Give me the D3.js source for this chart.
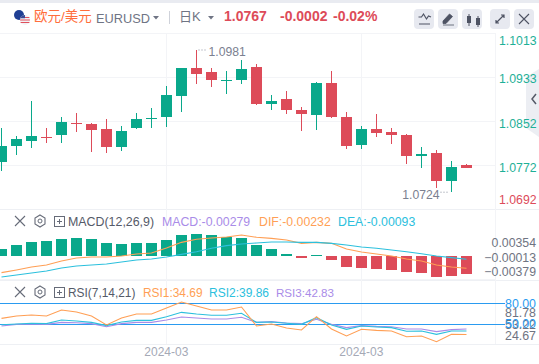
<!DOCTYPE html>
<html>
<head>
<meta charset="utf-8">
<script src="https://cdn.jsdelivr.net/npm/d3@7"></script>
<style>
  html, body { margin: 0; padding: 0; background: #fff; overflow: hidden; }
  text { font-family: "Liberation Sans", "Noto Sans CJK SC", sans-serif; }
</style>
</head>
<body>
<div id="chart"></div>
<script>
// Candles
var open = [1.07777, 1.08066, 1.08157, 1.08229, 1.08265, 1.08482, 1.08464, 1.08374, 1.08048, 1.08392, 1.08554, 1.08590, 1.08970, 1.09476, 1.09404, 1.09241, 1.09259, 1.09494, 1.08825, 1.08916, 1.08717, 1.08627, 1.09205, 1.08590, 1.08084, 1.08374, 1.08319, 1.08265, 1.07886, 1.07940, 1.07434, 1.07718];
var high = [1.08392, 1.08247, 1.08880, 1.08392, 1.08590, 1.08663, 1.08482, 1.08554, 1.08428, 1.08663, 1.08753, 1.09151, 1.09476, 1.0981, 1.09476, 1.09422, 1.09621, 1.09548, 1.08988, 1.09060, 1.08771, 1.09223, 1.09422, 1.08681, 1.08428, 1.08645, 1.08392, 1.08283, 1.08048, 1.07994, 1.07795, 1.07741];
var low = [1.07615, 1.07904, 1.08036, 1.08121, 1.08121, 1.08319, 1.07958, 1.07940, 1.07976, 1.08374, 1.08392, 1.08410, 1.08681, 1.09187, 1.09133, 1.09006, 1.09187, 1.08807, 1.08717, 1.08645, 1.08337, 1.08356, 1.08572, 1.08012, 1.08012, 1.08229, 1.08102, 1.07741, 1.07669, 1.07307, 1.0724, 1.07669];
var close = [1.08066, 1.08193, 1.08247, 1.08211, 1.08500, 1.08464, 1.08356, 1.08048, 1.08337, 1.08554, 1.08572, 1.08988, 1.09476, 1.09368, 1.09259, 1.09259, 1.09458, 1.08825, 1.08880, 1.08717, 1.08645, 1.09205, 1.08590, 1.08066, 1.08374, 1.08301, 1.08265, 1.07886, 1.07922, 1.07434, 1.07687, 1.0767];

// MACD panel
var macdHist = [0.00108, 0.00170, 0.00216, 0.00232, 0.00263, 0.00278, 0.00263, 0.00201, 0.00185, 0.00201, 0.00201, 0.00247, 0.00324, 0.00340, 0.00324, 0.00293, 0.00278, 0.00170, 0.00108, 0.00031, -0.00031, 0.00008, -0.00062, -0.00170, -0.00185, -0.00201, -0.00216, -0.00247, -0.00263, -0.00324, -0.00309, -0.00279];
var dif = [-0.00299, -0.00258, -0.00212, -0.00181, -0.00119, -0.00073, -0.00057, -0.00057, -0.00042, -0.00011, 0.00005, 0.00082, 0.00169, 0.00216, 0.00236, 0.00252, 0.00283, 0.00247, 0.00231, 0.00205, 0.00154, 0.00169, 0.00154, 0.00066, 0.00020, -0.00011, -0.00042, -0.00088, -0.00119, -0.00181, -0.00212, -0.00232];
var dea = [-0.00366, -0.00335, -0.00304, -0.00273, -0.00227, -0.00196, -0.00181, -0.00165, -0.00134, -0.00103, -0.00088, -0.00057, -0.00016, 0.00025, 0.00077, 0.00118, 0.00144, 0.00159, 0.00175, 0.00175, 0.00169, 0.00169, 0.00154, 0.00128, 0.00097, 0.00077, 0.00051, 0.00025, -0.00006, -0.00042, -0.00067, -0.00093];

// RSI panel
var rsi1 = [58.2, 61.6, 63, 61.6, 70.3, 67.4, 61.6, 48.6, 58.7, 64.5, 64.5, 73.2, 81.9, 76.1, 70.3, 70.3, 74.6, 47.1, 50, 44.2, 41.3, 60.6, 42.8, 32.6, 42.3, 40.8, 39.9, 31.6, 32.6, 24.4, 35, 34.69];
var rsi2 = [49, 50, 51, 50.5, 55.8, 54.3, 52.4, 47.6, 52.9, 55.3, 55.3, 60.6, 66.9, 64.5, 62.6, 62.6, 65.5, 52.4, 52.9, 51, 49.5, 59.2, 48.6, 42.3, 47.1, 45.7, 44.7, 39.4, 39.9, 35, 39.9, 39.86];
var rsi3 = [47.1, 49.5, 50, 49.5, 52.4, 51.9, 50.5, 46.1, 50.5, 52.4, 52.4, 55.8, 60.1, 58.7, 57.2, 57.2, 59.7, 52.4, 53.4, 51.4, 50.5, 56.8, 49.5, 44.7, 47.6, 46.6, 46.1, 42.8, 42.8, 38.9, 41.8, 42.83];

// Axis ticks
var priceTicks = [1.1013, 1.0933, 1.0852, 1.0772, 1.0692];
var macdTicks = [0.00354, -0.00013, -0.00379];
var rsiTicks = [81.78, 53.22, 24.67];
var rsiGuides = [80, 50];
var dateTicks = [11, 24];
var dateLabels = ["2024-03", "2024-03"];

var W = 539, H = 364;
var GREEN = "#09a88b", RED = "#dd4b59", GRID = "#f3f4f7";
var ORANGE = "#ff9f55", BLUE = "#2cc0dd", PURPLE = "#a98ce8";

var svg = d3.select("#chart").append("svg").attr("width", W).attr("height", H)
  .style("display", "block");

var idx = d3.range(close.length);

// Scales
var x = d3.scaleBand().domain(idx).range([-6.2, -6.2 + 15 * idx.length]).paddingInner(4 / 15).paddingOuter(2 / 15);
function cx(i) { return Math.round(x(i) + x.bandwidth() / 2 - 0.5) + 0.5; }

var yPrice = d3.scaleLinear().domain([1.0692, 1.1013]).range([209.4, 31.8]);
var yHist = d3.scaleLinear().domain([-0.00379, 0.00354]).range([256 + 0.00379 * 6475, 256 - 0.00354 * 6475]);
var yMacdLine = d3.scaleLinear().domain([-0.00379, 0.00354]).range([253.3 + 0.00379 * 6475, 253.3 - 0.00354 * 6475]);
var yMacdAxis = d3.scaleLinear().domain([-0.00379, 0.00354]).range([271.7, 243]);
var yRsi = d3.scaleLinear().domain([50, 80]).range([324, 303.3]);
var yRsiAxis = d3.scaleLinear().domain([24.67, 81.78]).range([335.7, 313]);

// Top strip
svg.append("rect").attr("width", W).attr("height", 3).attr("fill", "#e9ebf1");

// Collapse handle
svg.append("path").attr("d", "M539 69L526 77V128L539 137z").attr("fill", "#eceef3");
svg.append("path").attr("d", "M536 94l-4 5 4 5").attr("fill", "none").attr("stroke", "#555a68").attr("stroke-width", 1.5);

// Grid
var grid = svg.append("g").attr("stroke", GRID).attr("fill", "none").attr("shape-rendering", "crispEdges");
[33.5, 77.5, 121.5, 165.5].forEach(function (y) {
  grid.append("line").attr("x1", 0).attr("x2", 495).attr("y1", y).attr("y2", y);
});
[209.5, 280.5, 344.5].forEach(function (y) {
  grid.append("line").attr("x1", 0).attr("x2", W).attr("y1", y).attr("y2", y).attr("stroke", "#eef0f4");
});
grid.append("line").attr("x1", 0).attr("x2", 495).attr("y1", 279.5).attr("y2", 279.5);
dateTicks.forEach(function (i) {
  grid.append("line").attr("x1", cx(i)).attr("x2", cx(i)).attr("y1", 33).attr("y2", 344);
});
grid.append("line").attr("x1", 495.5).attr("x2", 495.5).attr("y1", 33).attr("y2", 344);

// Candles
var candles = svg.append("g").attr("shape-rendering", "crispEdges");
function colorOf(i) { return close[i] < open[i] ? RED : GREEN; }

candles.selectAll("line").data(idx).join("line")
  .attr("x1", cx).attr("x2", cx)
  .attr("y1", function (i) { return yPrice(high[i]); })
  .attr("y2", function (i) { return yPrice(low[i]); })
  .attr("stroke", colorOf);

candles.selectAll("rect").data(idx).join("rect")
  .attr("x", function (i) { return cx(i) - 5.5; })
  .attr("width", 11)
  .attr("y", function (i) { return Math.min(yPrice(open[i]), yPrice(close[i])); })
  .attr("height", function (i) { return Math.max(1, Math.abs(yPrice(open[i]) - yPrice(close[i]))); })
  .attr("fill", colorOf);

// High / low markers
var hiIdx = d3.maxIndex(high), loIdx = d3.minIndex(low);
svg.append("text").attr("x", cx(hiIdx) + 12).attr("y", yPrice(high[hiIdx]) + 6)
  .attr("font-size", 12.2).attr("fill", "#7b8090").text(d3.format(".4f")(high[hiIdx]));
svg.append("line").attr("x1", cx(hiIdx) + 2).attr("x2", cx(hiIdx) + 11)
  .attr("y1", yPrice(high[hiIdx]) + 0.5).attr("y2", yPrice(high[hiIdx]) + 0.5)
  .attr("stroke", "#8a8f9e").attr("stroke-dasharray", "1 2");
svg.append("text").attr("x", cx(loIdx) - 12).attr("y", yPrice(low[loIdx]) + 7).attr("text-anchor", "end")
  .attr("font-size", 12.2).attr("fill", "#7b8090").text(d3.format(".4f")(low[loIdx]));
svg.append("line").attr("x1", cx(loIdx) - 11).attr("x2", cx(loIdx) - 2)
  .attr("y1", yPrice(low[loIdx]) + 0.5).attr("y2", yPrice(low[loIdx]) + 0.5)
  .attr("stroke", "#8a8f9e").attr("stroke-dasharray", "1 2");

// Price axis
var priceAxis = svg.append("g").attr("transform", "translate(499,0)")
  .call(d3.axisRight(yPrice).tickValues(priceTicks).tickSize(0).tickPadding(0).tickFormat(d3.format(".4f")));
priceAxis.select(".domain").remove();
priceAxis.selectAll("text")
  .attr("font-size", 12.3)
  .attr("fill", function (d) { return d < close[close.length - 1] - 0.005 ? RED : "#1eb097"; })
  .attr("dy", function (d, i) { return i === 0 ? "1.05em" : i === priceTicks.length - 1 ? "-0.45em" : "0.5em"; });

// MACD bars and lines
svg.append("g").attr("shape-rendering", "crispEdges")
  .selectAll("rect").data(idx).join("rect")
  .attr("x", function (i) { return cx(i) - 5.5; })
  .attr("width", 11)
  .attr("y", function (i) { return Math.min(yHist(0), yHist(macdHist[i])); })
  .attr("height", function (i) { return Math.abs(yHist(macdHist[i]) - yHist(0)); })
  .attr("fill", function (i) { return macdHist[i] < 0 ? RED : GREEN; });

function drawLine(values, scale, color) {
  var gen = d3.line().x(function (d, i) { return cx(i); }).y(function (d) { return scale(d); });
  svg.append("path").datum(values).attr("d", gen)
    .attr("fill", "none").attr("stroke", color).attr("stroke-width", 1.1);
}
drawLine(dif, yMacdLine, ORANGE);
drawLine(dea, yMacdLine, BLUE);

var macdAxis = svg.append("g")
  .call(d3.axisRight(yMacdAxis).tickValues(macdTicks).tickSize(0).tickPadding(0).tickFormat(d3.format(".5f")));
macdAxis.select(".domain").remove();
macdAxis.selectAll("text").attr("font-size", 12.3).attr("fill", "#6f7482")
  .attr("text-anchor", "end").attr("x", 536);

// RSI
rsiGuides.forEach(function (v) {
  svg.append("line").attr("x1", 0).attr("x2", 505).attr("y1", yRsi(v)).attr("y2", yRsi(v))
    .attr("stroke", "#2a9bf0").attr("shape-rendering", "crispEdges");
});
drawLine(rsi3, yRsi, PURPLE);
drawLine(rsi2, yRsi, BLUE);
drawLine(rsi1, yRsi, ORANGE);

var rsiAxis = svg.append("g")
  .call(d3.axisRight(yRsiAxis).tickValues(rsiTicks).tickSize(0).tickPadding(0).tickFormat(d3.format(".2f")));
rsiAxis.select(".domain").remove();
rsiAxis.selectAll("text").attr("font-size", 12.4).attr("fill", "#6f7482")
  .attr("text-anchor", "end").attr("x", 536);

rsiGuides.forEach(function (v) {
  svg.append("text").attr("x", 536).attr("y", yRsi(v)).attr("dy", "0.36em").attr("text-anchor", "end")
    .attr("font-size", 12.4).attr("fill", "#2a9bf0").text(d3.format(".2f")(v));
});

// Date axis
var xAxis = svg.append("g").attr("transform", "translate(0,344)")
  .call(d3.axisBottom(x).tickValues(dateTicks).tickSize(0).tickPadding(3)
    .tickFormat(function (d, i) { return dateLabels[i]; }));
xAxis.select(".domain").remove();
xAxis.selectAll("text").attr("font-size", 12).attr("fill", "#a5a9b6");

// Header
function label(px, py, txt, color, size, weight) {
  return svg.append("text").attr("x", px).attr("y", py).attr("font-size", size || 13)
    .attr("font-weight", weight || "normal").attr("fill", color).text(txt);
}
// flags
svg.append("circle").attr("cx", 19).attr("cy", 15).attr("r", 5).attr("fill", "#1f3f94");
svg.append("circle").attr("cx", 25).attr("cy", 20).attr("r", 5).attr("fill", "#f2f2f6");
svg.append("path").attr("d", "M20.6 17.5h8.8M20.1 20h9.8M20.6 22.5h8.8").attr("stroke", "#e0505c").attr("stroke-width", 1.2);
svg.append("path").attr("d", "M25 15a5 5 0 0 0-4.6 3.2h4.6z").attr("fill", "#3a4c96");

label(34, 21, "欧元/美元", "#ff6e3c", 13.5);
label(96, 23, "EURUSD", "#6f7484", 12.8);
svg.append("path").attr("d", "M153 16h6l-3 3.5z").attr("fill", "#6f7484");
svg.append("line").attr("x1", 169.5).attr("x2", 169.5).attr("y1", 11).attr("y2", 24).attr("stroke", "#cfd2da");
label(179, 21, "日K", "#6f7484", 13);
svg.append("path").attr("d", "M208 16h6l-3 3.5z").attr("fill", "#6f7484");
label(224, 21, "1.0767", "#dd4b59", 14, "bold");
label(280, 21, "-0.0002", "#dd4b59", 14, "bold");
label(333, 21, "-0.02%", "#dd4b59", 14, "bold");

// Toolbar buttons
[414, 438, 462, 490, 514].forEach(function (bx) {
  svg.append("rect").attr("x", bx).attr("y", 9).attr("width", 20).attr("height", 20).attr("rx", 4).attr("fill", "#e7e9f0");
});
var ICON = "#4e5363";
svg.append("path").attr("d", "M418.5 17l3 0 2-3 3 5 2-3 2.500 1M419 24h11").attr("fill", "none").attr("stroke", ICON).attr("stroke-width", 1.2);
svg.append("path").attr("d", "M443 21l6.500-7 3 2.500-6.500 7h-3zM443 25h11").attr("fill", ICON).attr("stroke", ICON).attr("stroke-width", 0.8);
svg.append("path").attr("d", "M469 14v12M478 16v11").attr("stroke", ICON).attr("stroke-width", 1);
svg.append("rect").attr("x", 467).attr("y", 16).attr("width", 4).attr("height", 7).attr("fill", ICON);
svg.append("rect").attr("x", 476).attr("y", 18).attr("width", 4).attr("height", 7).attr("fill", ICON);
svg.append("path").attr("d", "M496 23l8-8M501 15h3v3M496 20v3h3").attr("fill", "none").attr("stroke", ICON).attr("stroke-width", 1.2);
svg.append("path").attr("d", "M519 14l10 10M529 14l-10 10").attr("fill", "none").attr("stroke", ICON).attr("stroke-width", 1.1);

// Indicator title rows
function panelTools(py) {
  svg.append("path").attr("d", "M15 " + (py - 5) + "l10 10M25 " + (py - 5) + "l-10 10").attr("stroke", "#666b78").attr("stroke-width", 1.1);
  svg.append("path").attr("d", "M40 " + (py - 6) + "l5 3v6l-5 3-5-3v-6z").attr("fill", "none").attr("stroke", "#666b78").attr("stroke-width", 1.1);
  svg.append("circle").attr("cx", 40).attr("cy", py).attr("r", 2).attr("fill", "none").attr("stroke", "#666b78");
  svg.append("rect").attr("x", 54.5).attr("y", py - 4.5).attr("width", 10).attr("height", 10).attr("fill", "none").attr("stroke", "#666b78");
  svg.append("path").attr("d", "M57 " + (py + 0.5) + "h5M59.5 " + (py - 2) + "v5").attr("stroke", "#666b78");
}
panelTools(221);
label(68, 226, "MACD(12,26,9)", "#555a68", 12.4);
label(162, 226, "MACD:-0.00279", PURPLE, 12.3);
label(259, 226, "DIF:-0.00232", ORANGE, 12.3);
label(338, 226, "DEA:-0.00093", BLUE, 12.3);

panelTools(292);
label(68, 297, "RSI(7,14,21)", "#555a68", 11.9);
label(143, 297, "RSI1:34.69", ORANGE, 11.9);
label(209, 297, "RSI2:39.86", BLUE, 12);
label(276, 297, "RSI3:42.83", PURPLE, 11.6);
</script>
</body>
</html>
